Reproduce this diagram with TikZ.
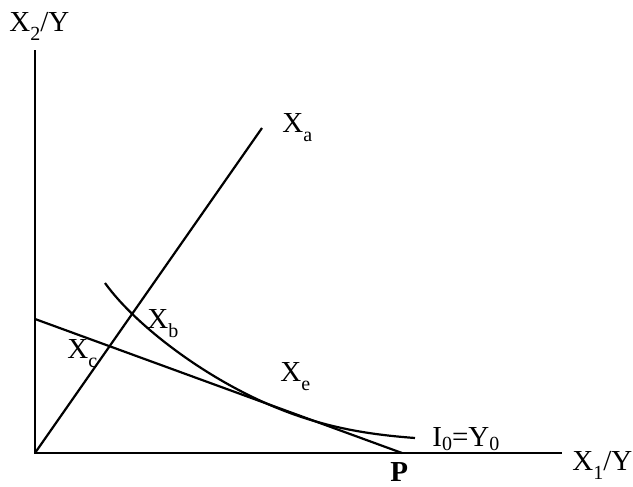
\documentclass[tikz,border=0pt]{standalone}
\usepackage{fontspec}
\setmainfont{Liberation Serif}
\newcommand\lsub[2][4.5pt]{\raisebox{-#1}{\fontsize{10}{10}\selectfont #2}}
\tikzset{
  axisline/.style={line width=1.2pt},
  plotline/.style={line width=1.1pt},
  lbl/.style={anchor=base west, inner sep=0pt, font=\fontsize{14.5}{14.5}\selectfont}
}
\begin{document}
\begin{tikzpicture}[x=0.5pt,y=-0.5pt]
\useasboundingbox (0,0) rectangle (633,487);
% axes
\coordinate (O) at (35,453);
\coordinate (Ytop) at (35,50);
\coordinate (Xend) at (562,453);
\draw[axisline] (Ytop) -- (O) -- (Xend);
% ray Xa
\coordinate (A) at (262,128);
\draw[plotline] (O) -- (A);
% budget line
\coordinate (B) at (35,319);
\coordinate (Pp) at (402,453);
\draw[plotline] (B) -- (Pp);
% isoquant
\coordinate (C) at (105,283);
\coordinate (T) at (290,413);
\coordinate (E) at (415,438);
\draw[plotline] (C) .. controls (135,325) and (210,383.6) .. (T)
  .. controls (335,429.5) and (375,435) .. (E);
% labels
\node[lbl] (lx2) at (9,32) {X\lsub{2}/Y};
\node[lbl] (lxa) at (282,133) {X\lsub{a}};
\node[lbl] (lxb) at (147,328) {X\lsub{b}};
\node[lbl] (lxc) at (67,358) {X\lsub{c}};
\node[lbl] (lxe) at (280,381) {X\lsub{e}};
\node[lbl] (li0) at (432,446) {I\lsub[2pt]{0}=Y\lsub[2pt]{0}};
\node[lbl, font=\fontsize{14.5}{14.5}\selectfont\bfseries] (lp) at (390,481) {P};
\node[lbl] (lx1) at (572,470) {X\lsub{1}/Y};
\end{tikzpicture}
\end{document}
